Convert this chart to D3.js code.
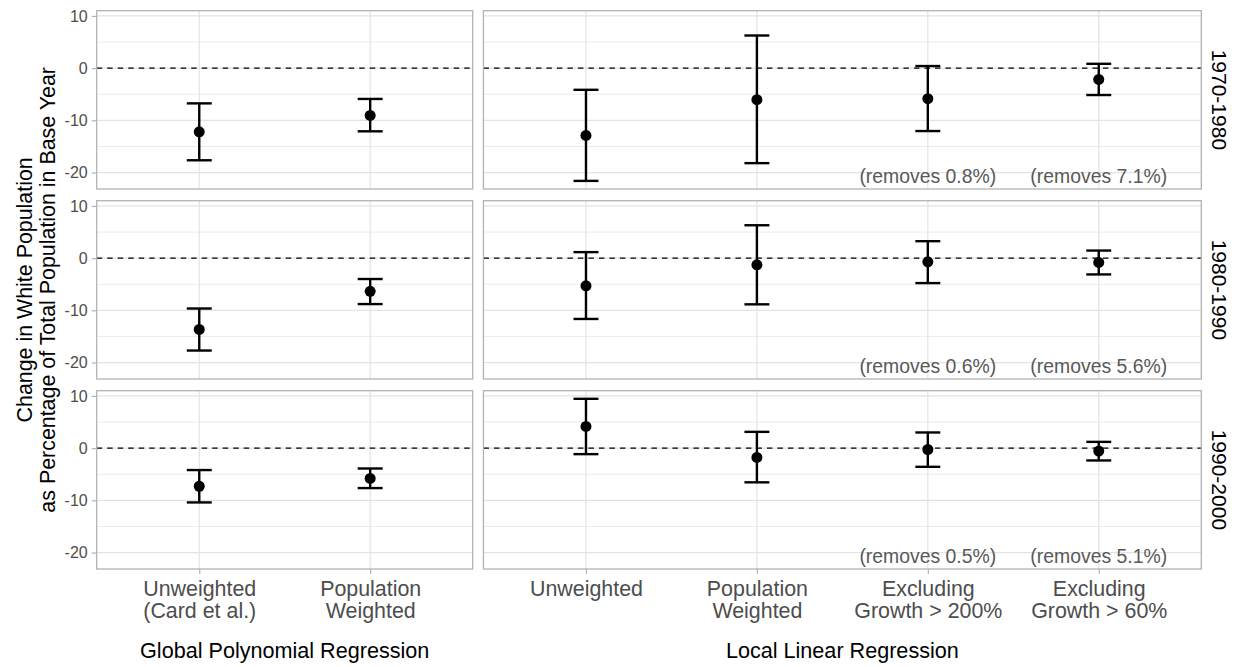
<!DOCTYPE html>
<html><head><meta charset="utf-8">
<script src="https://cdn.jsdelivr.net/npm/d3@7"></script>
<style>
body{margin:0;background:#fff}
svg{display:block}
text{font-family:"Liberation Sans", Arial, Helvetica, sans-serif}
</style>
</head><body>
<svg id="chart" width="1239" height="667"></svg>
<script>
// ---------- DATA ----------
const periods = ["1970-1980", "1980-1990", "1990-2000"];
const methods = ["Global Polynomial Regression", "Local Linear Regression"];
const globalCategories = [["Unweighted", "(Card et al.)"], ["Population", "Weighted"]];
const localCategories = [["Unweighted"], ["Population", "Weighted"], ["Excluding", "Growth > 200%"], ["Excluding", "Growth > 60%"]];

// rows = periods, columns = categories
const globalEstimate = [[-12.2, -9.05], [-13.65, -6.35], [-7.3, -5.8]];
const globalLower    = [[-17.65, -12.1], [-17.7, -8.8], [-10.4, -7.65]];
const globalUpper    = [[-6.75, -5.9], [-9.65, -4.0], [-4.2, -3.9]];

const localEstimate = [[-12.9, -6.05, -5.85, -2.17], [-5.3, -1.27, -0.7, -0.83], [4.15, -1.78, -0.26, -0.57]];
const localLower    = [[-21.6, -18.2, -12.05, -5.15], [-11.65, -8.85, -4.78, -3.12], [-1.15, -6.55, -3.58, -2.36]];
const localUpper    = [[-4.15, 6.25, 0.4, 0.83], [1.15, 6.3, 3.25, 1.45], [9.45, 3.12, 3.0, 1.2]];

const removeNotes = [["(removes 0.8%)", "(removes 7.1%)"], ["(removes 0.6%)", "(removes 5.6%)"], ["(removes 0.5%)", "(removes 5.1%)"]];
const noteValue = -22;
const yMajorTicks = [-20, -10, 0, 10];
const yTickLabels = ["-20", "-10", "0", "10"];
const yMinorTicks = [-15, -5, 5];
const yTitle = ["Change in White  Population", "as Percentage of Total Population in Base Year"];

// ---------- LAYOUT ----------
const svg = d3.select("#chart");
const plotLeft = 96.7, plotRight = 1201.3, colGap = 10.7;
const plotTop = 10.7, plotBottom = 569, rowGap = 11.7;
const nCols = [globalCategories.length, localCategories.length];
const colUnits = nCols.map(n => n - 1 + 1.2);
const unitPx = (plotRight - plotLeft - colGap) / d3.sum(colUnits);
const colX = [];
{ let x = plotLeft; colUnits.forEach(u => { colX.push([x, x + u * unitPx]); x += u * unitPx + colGap; }); }
const rowH = (plotBottom - plotTop - 2 * rowGap) / 3;
const rowY = periods.map((p, i) => [plotTop + i * (rowH + rowGap), plotTop + i * (rowH + rowGap) + rowH]);

// y domain: data range with 5% expansion (ggplot default)
const allVals = [globalLower, globalUpper, localLower, localUpper].flat(2);
const [dmin, dmax] = d3.extent(allVals);
const pad = (dmax - dmin) * 0.05;
const yDomain = [dmin - pad, dmax + pad];

const panels = [
  { cats: globalCategories, est: globalEstimate, lo: globalLower, hi: globalUpper, notes: null },
  { cats: localCategories, est: localEstimate, lo: localLower, hi: localUpper, notes: removeNotes }
];

const gridCol = "#e3e3e3", borderCol = "#b3b3b3", tickTextCol = "#4d4d4d";

periods.forEach((period, r) => {
  const [yt, yb] = rowY[r];
  const y = d3.scaleLinear().domain(yDomain).range([yb, yt]);
  panels.forEach((pn, c) => {
    const [xl, xr] = colX[c];
    const x = d3.scalePoint().domain(d3.range(pn.cats.length)).range([xl, xr]).padding(0.6);
    const g = svg.append("g");
    // minor grid
    g.selectAll(".ymin").data(yMinorTicks).join("line")
      .attr("x1", xl).attr("x2", xr).attr("y1", d => y(d)).attr("y2", d => y(d))
      .attr("stroke", "#ebebeb").attr("stroke-width", 1);
    // major grid
    g.selectAll(".ymaj").data(yMajorTicks).join("line")
      .attr("x1", xl).attr("x2", xr).attr("y1", d => y(d)).attr("y2", d => y(d))
      .attr("stroke", gridCol).attr("stroke-width", 1.2);
    g.selectAll(".xmaj").data(d3.range(pn.cats.length)).join("line")
      .attr("x1", d => x(d)).attr("x2", d => x(d)).attr("y1", yt).attr("y2", yb)
      .attr("stroke", gridCol).attr("stroke-width", 1.2);
    // zero dashed
    g.append("line").attr("x1", xl).attr("x2", xr).attr("y1", y(0)).attr("y2", y(0))
      .attr("stroke", "#000").attr("stroke-width", 1.2).attr("stroke-dasharray", "5.5,5");
    // notes
    if (pn.notes) {
      g.selectAll(".note").data(pn.notes[r]).join("text")
        .attr("x", (d, i) => x(pn.cats.length - pn.notes[r].length + i))
        .attr("y", y(noteValue))
        .attr("text-anchor", "middle").attr("font-size", 19.4).attr("fill", "#595959")
        .text(d => d);
    }
    // error bars
    const capHalf = 0.073 * x.step();
    const idx = d3.range(pn.cats.length);
    g.selectAll(".eb").data(idx).join("line")
      .attr("x1", d => x(d)).attr("x2", d => x(d))
      .attr("y1", d => y(pn.lo[r][d])).attr("y2", d => y(pn.hi[r][d]))
      .attr("stroke", "#000").attr("stroke-width", 2.4);
    g.selectAll(".capl").data(idx).join("line")
      .attr("x1", d => x(d) - capHalf).attr("x2", d => x(d) + capHalf)
      .attr("y1", d => y(pn.lo[r][d])).attr("y2", d => y(pn.lo[r][d]))
      .attr("stroke", "#000").attr("stroke-width", 2.4);
    g.selectAll(".caph").data(idx).join("line")
      .attr("x1", d => x(d) - capHalf).attr("x2", d => x(d) + capHalf)
      .attr("y1", d => y(pn.hi[r][d])).attr("y2", d => y(pn.hi[r][d]))
      .attr("stroke", "#000").attr("stroke-width", 2.4);
    g.selectAll(".pt").data(idx).join("circle")
      .attr("cx", d => x(d)).attr("cy", d => y(pn.est[r][d])).attr("r", 5.5).attr("fill", "#000");
    // border
    g.append("rect").attr("x", xl).attr("y", yt).attr("width", xr - xl).attr("height", yb - yt)
      .attr("fill", "none").attr("stroke", borderCol).attr("stroke-width", 1.3);

    // y axis on left column
    if (c === 0) {
      const ax = svg.append("g").attr("transform", `translate(${xl},0)`)
        .call(d3.axisLeft(y).tickValues(yMajorTicks).tickSize(5).tickPadding(4)
          .tickFormat((d, i) => yTickLabels[i]));
      ax.select(".domain").remove();
      ax.selectAll(".tick line").attr("stroke", borderCol).attr("stroke-width", 1.2);
      ax.selectAll(".tick text").attr("fill", tickTextCol).attr("font-size", 16)
        .attr("font-family", '"Liberation Sans", Arial, sans-serif');
    }
    // x axis on bottom row
    if (r === periods.length - 1) {
      const ax = svg.append("g").attr("transform", `translate(0,${yb})`)
        .call(d3.axisBottom(x).tickSize(5).tickFormat(() => ""));
      ax.select(".domain").remove();
      ax.selectAll(".tick line").attr("stroke", borderCol).attr("stroke-width", 1.2);
      ax.selectAll(".tick text").each(function(d) {
        const t = d3.select(this).attr("y", null).attr("dy", null)
          .attr("fill", tickTextCol).attr("font-size", 21.4)
          .attr("font-family", '"Liberation Sans", Arial, sans-serif');
        pn.cats[d].forEach((line, li) => {
          t.append("tspan").attr("x", 0).attr("y", 27 + li * 22).text(line);
        });
      });
    }
  });
  // strip label
  svg.append("text")
    .attr("transform", `translate(1212,${(yt + yb) / 2}) rotate(90)`)
    .attr("text-anchor", "middle").attr("font-size", 21).attr("fill", "#000")
    .text(period);
});

// method labels under the columns
methods.forEach((m, c) => {
  svg.append("text")
    .attr("x", (colX[c][0] + colX[c][1]) / 2).attr("y", 658)
    .attr("text-anchor", "middle").attr("font-size", 21.6).attr("fill", "#000")
    .text(m);
});

// y title
const yt = svg.append("text")
  .attr("transform", `translate(32,${(plotTop + plotBottom) / 2}) rotate(-90)`)
  .attr("text-anchor", "middle").attr("font-size", 21.4).attr("fill", "#000");
yTitle.forEach((line, i) => {
  yt.append("tspan").attr("x", 0).attr("y", i * 23).text(line);
});
</script>
</body></html>
